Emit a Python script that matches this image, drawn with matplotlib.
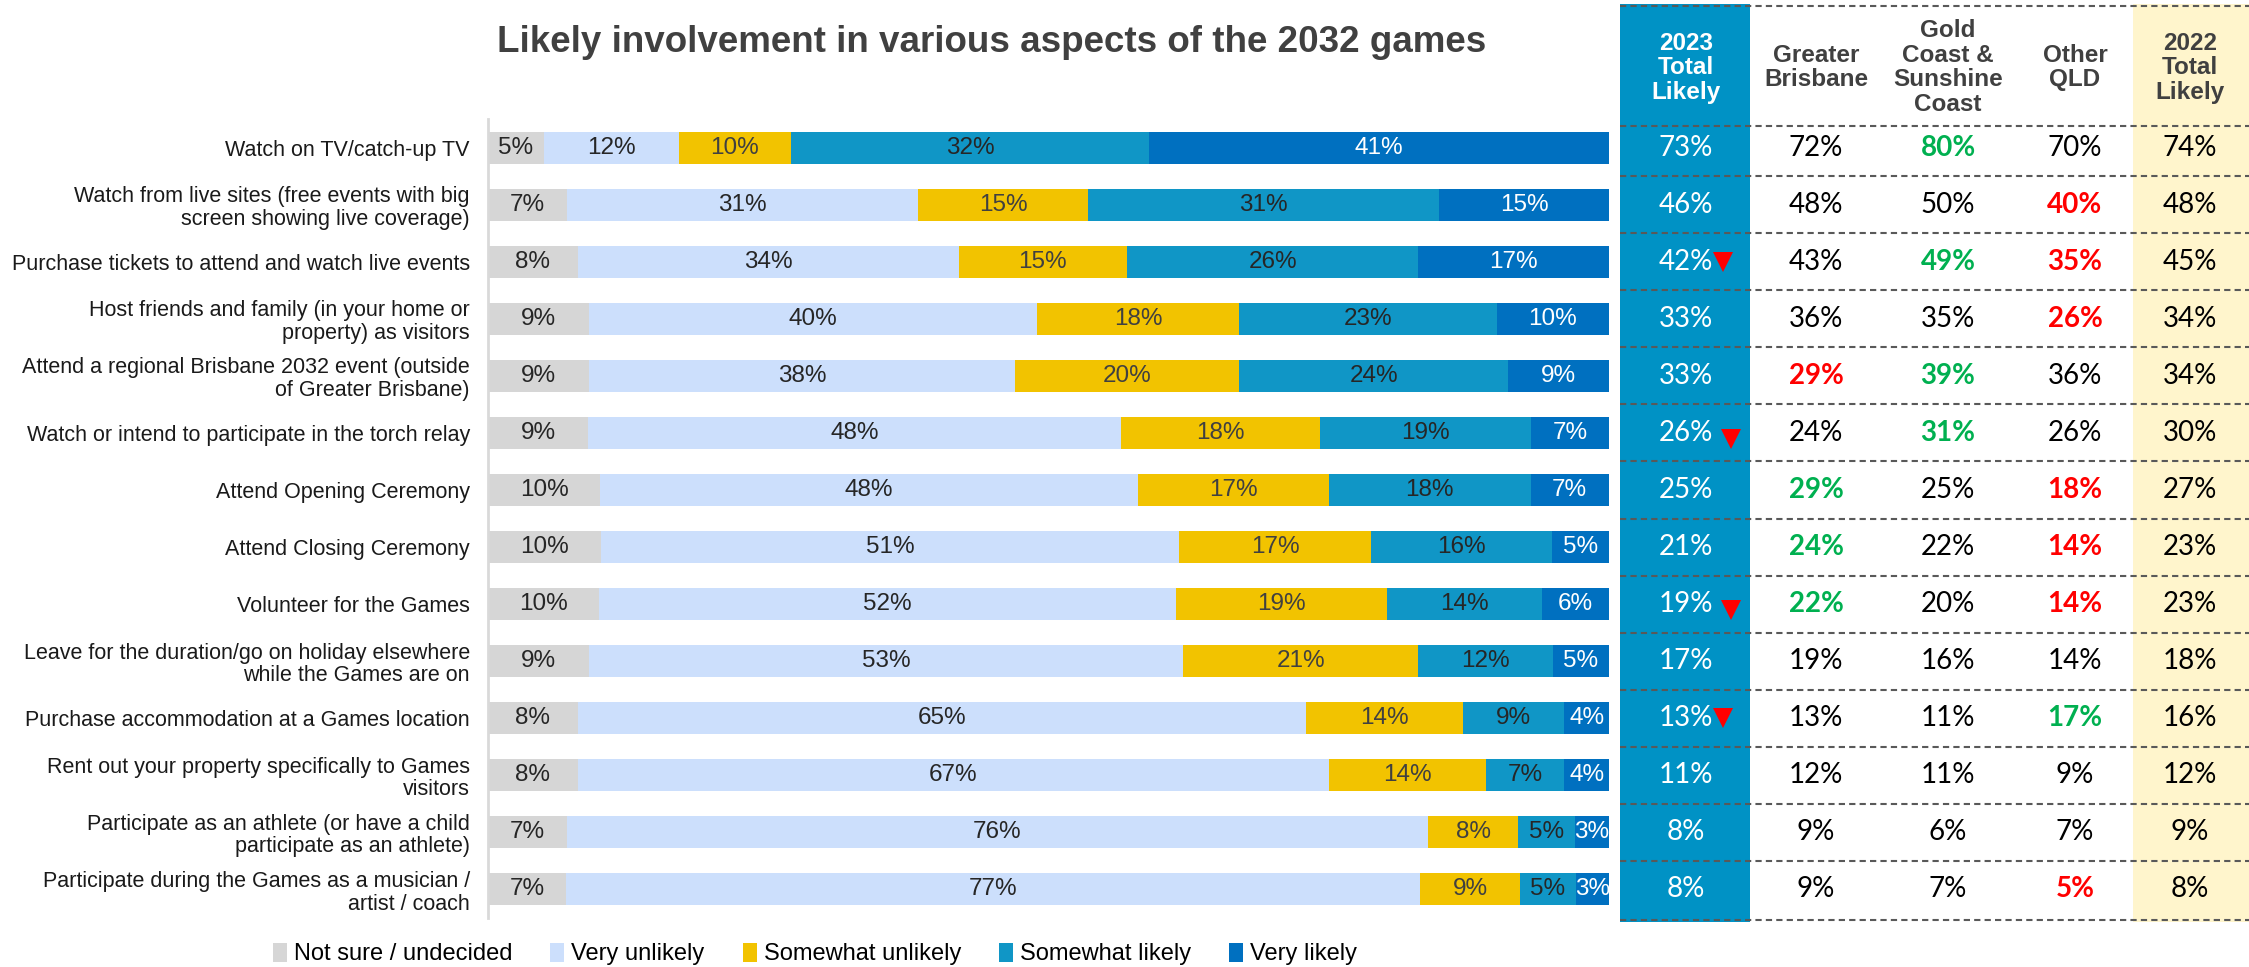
import matplotlib.pyplot as plt
from matplotlib.patches import Rectangle
import numpy as np

categories = [
    "Watch on TV/catch-up TV",
    "Watch from live sites (free events with big\nscreen showing live coverage)",
    "Purchase tickets to attend and watch live events",
    "Host friends and family (in your home or\nproperty) as visitors",
    "Attend a regional Brisbane 2032 event (outside\nof Greater Brisbane)",
    "Watch or intend to participate in the torch relay",
    "Attend Opening Ceremony",
    "Attend Closing Ceremony",
    "Volunteer for the Games",
    "Leave for the duration/go on holiday elsewhere\nwhile the Games are on",
    "Purchase accommodation at a Games location",
    "Rent out your property specifically to Games\nvisitors",
    "Participate as an athlete (or have a child\nparticipate as an athlete)",
    "Participate during the Games as a musician /\nartist / coach",
]

series_names = ["Not sure / undecided", "Very unlikely", "Somewhat unlikely",
                "Somewhat likely", "Very likely"]
not_sure = [5, 7, 8, 9, 9, 9, 10, 10, 10, 9, 8, 8, 7, 7]
very_unlikely = [12, 31, 34, 40, 38, 48, 48, 51, 52, 53, 65, 67, 76, 77]
somewhat_unlikely = [10, 15, 15, 18, 20, 18, 17, 17, 19, 21, 14, 14, 8, 9]
somewhat_likely = [32, 31, 26, 23, 24, 19, 18, 16, 14, 12, 9, 7, 5, 5]
very_likely = [41, 15, 17, 10, 9, 7, 7, 5, 6, 5, 4, 4, 3, 3]

# table columns
col_headers = ["2023\nTotal\nLikely", "Greater\nBrisbane", "Gold\nCoast &\nSunshine\nCoast",
               "Other\nQLD", "2022\nTotal\nLikely"]
total_2023 = [73, 46, 42, 33, 33, 26, 25, 21, 19, 17, 13, 11, 8, 8]
greater_brisbane = [72, 48, 43, 36, 29, 24, 29, 24, 22, 19, 13, 12, 9, 9]
gold_sunshine = [80, 50, 49, 35, 39, 31, 25, 22, 20, 16, 11, 11, 6, 7]
other_qld = [70, 40, 35, 26, 36, 26, 18, 14, 14, 14, 17, 9, 7, 5]
total_2022 = [74, 48, 45, 34, 34, 30, 27, 23, 23, 18, 16, 12, 9, 8]
# significance flags: 'g' higher, 'r' lower
gb_sig = {4: 'r', 6: 'g', 7: 'g', 8: 'g'}
gc_sig = {0: 'g', 2: 'g', 4: 'g', 5: 'g'}
oq_sig = {1: 'r', 2: 'r', 3: 'r', 6: 'r', 7: 'r', 8: 'r', 10: 'g', 13: 'r'}
down_rows = [2, 5, 8, 10]

seg_colors = ["#D6D6D6", "#CCDFFC", "#F2C300", "#1096C6", "#0070C0"]
text_colors = ["#262626", "#262626", "#404040", "#262626", "white"]
BLUE_COL = "#0092C5"
YELLOW_COL = "#FFF5CC"
GREEN = "#00B050"
RED = "#FF0000"

W, H = 2249, 967
fig = plt.figure(figsize=(W / 100, H / 100), dpi=100)
plt.rcParams['font.family'] = ['Liberation Sans', 'DejaVu Sans']

# ---- stacked bars ----
ax = fig.add_axes([488 / W, 49 / H, 1121 / W, 799 / H])
data = np.array([not_sure, very_unlikely, somewhat_unlikely, somewhat_likely, very_likely], dtype=float)
shares = data / data.sum(axis=0) * 100
y = np.arange(len(categories))
left = np.zeros(len(categories))
for k in range(5):
    ax.barh(y, shares[k], left=left, height=0.56, color=seg_colors[k], label=series_names[k])
    for i in range(len(categories)):
        ax.text(left[i] + shares[k][i] / 2, y[i], f"{int(data[k][i])}%", ha='center', va='center',
                fontsize=17.5, color=text_colors[k])
    left += shares[k]

ax.set_xlim(0, 100)
ax.set_ylim(len(categories) - 0.5, -0.5)
ax.set_yticks(y)
ax.set_yticklabels(categories, fontsize=15.5, color="#1a1a1a", linespacing=1.1)
ax.tick_params(axis='y', length=0, pad=13)
ax.set_xticks([])
for s in ['top', 'right', 'bottom']:
    ax.spines[s].set_visible(False)
ax.spines['left'].set_color("#D9D9D9")
ax.spines['left'].set_linewidth(2)

# ---- table ----
tax = fig.add_axes([1620 / W, 45 / H, 629 / W, 918 / H])
tax.set_xlim(1620, 2249)
tax.set_ylim(13.57, -2.515)
tax.axis('off')
tax.add_patch(Rectangle((1620, -2.515), 130, 16.1, color=BLUE_COL, lw=0))
tax.add_patch(Rectangle((2133, -2.515), 116, 16.1, color=YELLOW_COL, lw=0))

col_x = [1686, 1816, 1948, 2075, 2190]
for j, h in enumerate(col_headers):
    tax.text(col_x[j], -1.4, h, ha='center', va='center', fontsize=17.5, fontweight='bold',
             color='white' if j == 0 else "#404040", linespacing=1.08)

cols = [total_2023, greater_brisbane, gold_sunshine, other_qld, total_2022]
sigs = [{}, gb_sig, gc_sig, oq_sig, {}]
for j, vals in enumerate(cols):
    for i, v in enumerate(vals):
        s = sigs[j].get(i)
        if j == 0:
            c = 'white'
        elif s == 'g':
            c = GREEN
        elif s == 'r':
            c = RED
        else:
            c = 'black'
        tax.text(col_x[j], i, f"{v}%", ha='center', va='center', fontsize=20,
                 family='Lato', fontweight='bold' if s else 'normal', color=c)

for i in down_rows:
    dx = 1731 if i in (5, 8) else 1723
    dy = i + 0.1 if i in (5, 8) else i
    tax.plot(dx, dy, marker='v', color=RED, markersize=15, markeredgewidth=0)

sep_y = [-2.48, -0.38] + [i + 0.5 for i in range(13)] + [13.53]
for yy in sep_y:
    tax.plot([1620, 2249], [yy, yy], color="#595959", lw=1.5, ls=(0, (3, 2)))

# ---- title & legend ----
fig.text(992 / W, 1 - 42 / H, "Likely involvement in various aspects of the 2032 games",
         ha='center', va='center', fontsize=26.5, fontweight='bold', color="#404040")

handles, labels = ax.get_legend_handles_labels()
fig.legend(handles, labels, loc='center', bbox_to_anchor=(815 / W, 1 - 954 / H), ncol=5,
           frameon=False, fontsize=17, handlelength=0.6, handleheight=0.9,
           handletextpad=0.3, columnspacing=1.6)

fig.savefig("out.png", dpi=100)
